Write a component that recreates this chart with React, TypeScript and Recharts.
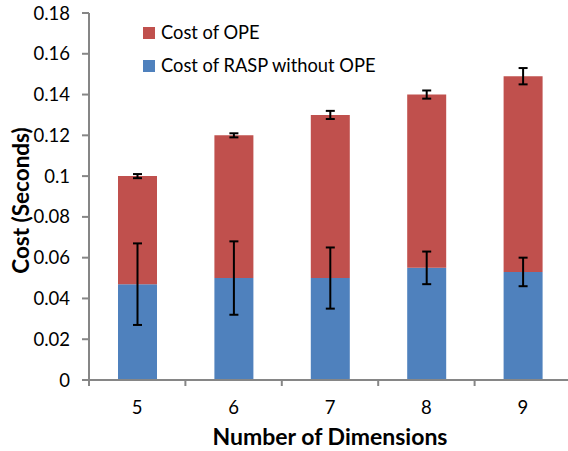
import React from 'react'
import { BarChart, Bar, XAxis, YAxis, ErrorBar } from 'recharts'

// x categories
const dimensions = ['5', '6', '7', '8', '9']
// blue part (cost of RASP without OPE)
const raspCost = [0.047, 0.05, 0.05, 0.055, 0.053]
const raspErr = [0.02, 0.018, 0.015, 0.008, 0.007]
// red part stacked on top (cost of OPE)
const opeCost = [0.053, 0.07, 0.08, 0.085, 0.096]
const totalErr = [0.001, 0.001, 0.002, 0.002, 0.004]
const yTicks = [0, 0.02, 0.04, 0.06, 0.08, 0.1, 0.12, 0.14, 0.16, 0.18]

const legendItems = [
  { name: 'Cost of OPE', color: '#C0504D' },
  { name: 'Cost of RASP without OPE', color: '#4F81BD' }
]

const data = dimensions.map((d, i) => ({
  dim: d,
  rasp: raspCost[i],
  raspErr: raspErr[i],
  ope: opeCost[i],
  totalErr: totalErr[i]
}))

const FONT = 'Lato, "Noto Sans", sans-serif'
const AXIS = '#868686'

// excel style: tick marks sit between categories
const XTick = (props: any) => {
  const { x, y, payload, index } = props
  const half = payload && payload.offset ? payload.offset : 48
  return (
    <g>
      <line x1={x - half} x2={x - half} y1={y} y2={y + 6} stroke={AXIS} strokeWidth={2} />
      {index === dimensions.length - 1 && (
        <line x1={x + half} x2={x + half} y1={y} y2={y + 6} stroke={AXIS} strokeWidth={2} />
      )}
      <text x={x} y={y + 21} dy="0.71em" textAnchor="middle" fontSize={18.5} fontFamily={FONT} fill="#000">
        {payload.value}
      </text>
    </g>
  )
}

// legend drawn as an overlay so it doesn't take room from the plot
const LegendBox = () => (
  <div
    style={{
      position: 'absolute',
      left: 143,
      top: 16,
      fontFamily: FONT,
      fontSize: 18.3,
      color: '#000',
      lineHeight: 1
    }}
  >
    {legendItems.map((it) => (
      <div key={it.name} style={{ display: 'flex', alignItems: 'center', height: 33 }}>
        <span style={{ width: 12, height: 12, background: it.color, marginRight: 6, display: 'inline-block' }} />
        <span>{it.name}</span>
      </div>
    ))}
  </div>
)

export default function App() {
  return (
    <div style={{ position: 'absolute', left: 0, top: 0, width: 568, height: 451, overflow: 'hidden', background: '#fff' }}>
      <BarChart
        width={572}
        height={451}
        data={data}
        margin={{ top: 13, right: 1, left: 0, bottom: 0 }}
        barSize={39}
      >
        <XAxis
          dataKey="dim"
          height={71}
          stroke={AXIS}
          strokeWidth={2}
          tickLine={false}
          tickSize={0}
          tickMargin={0}
          tick={<XTick />}
          label={{
            content: ({ viewBox }: any) => (
              <text
                x={viewBox.x + viewBox.width / 2}
                y={viewBox.y + 65}
                textAnchor="middle"
                fontSize={23}
                fontWeight="bold"
                fontFamily={FONT}
                fill="#000"
              >
                Number of Dimensions
              </text>
            )
          }}
        />
        <YAxis
          width={89}
          domain={[0, 0.18]}
          ticks={yTicks}
          interval={0}
          stroke={AXIS}
          strokeWidth={2}
          tickSize={7}
          tickMargin={12}
          tick={{ fontSize: 18.5, fontFamily: FONT, fill: '#000' }}
          tickFormatter={(v: number) => String(Number(v.toFixed(2)))}
          label={{
            content: ({ viewBox }: any) => {
              const cx = 20
              const cy = viewBox.y + viewBox.height / 2 + 4
              return (
                <text
                  x={cx}
                  y={cy}
                  transform={`rotate(-90, ${cx}, ${cy})`}
                  textAnchor="middle"
                  dominantBaseline="central"
                  fontSize={22.5}
                  fontWeight="bold"
                  fontFamily={FONT}
                  fill="#000"
                >
                  Cost (Seconds)
                </text>
              )
            }
          }}
        />
        <Bar dataKey="rasp" stackId="a" fill="#4F81BD" isAnimationActive={false}>
          <ErrorBar dataKey="raspErr" width={4.5} strokeWidth={2} stroke="#000" direction="y" />
        </Bar>
        <Bar dataKey="ope" stackId="a" fill="#C0504D" isAnimationActive={false}>
          <ErrorBar dataKey="totalErr" width={4.5} strokeWidth={2} stroke="#000" direction="y" />
        </Bar>
      </BarChart>
      <LegendBox />
    </div>
  )
}
